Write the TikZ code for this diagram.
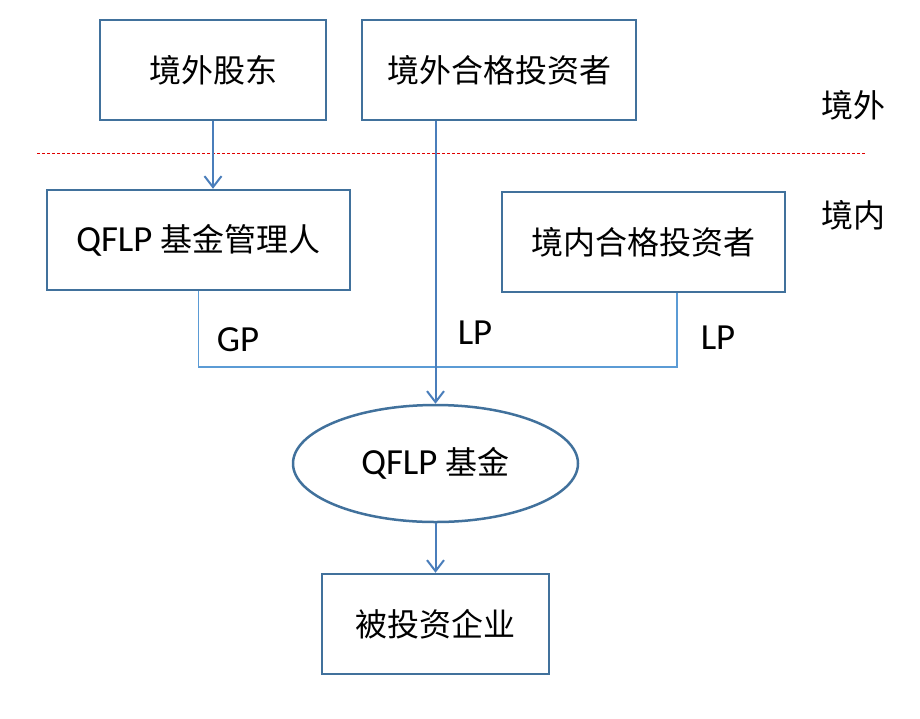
\documentclass[tikz,border=0pt]{standalone}
\usepackage{fontspec}
\setmainfont{Carlito}[Scale=1.15]
\newfontfamily\cjk{Noto Sans CJK SC}
\usetikzlibrary{arrows.meta,shapes.geometric}
\definecolor{boxblue}{HTML}{41719C}
\definecolor{arrowblue}{HTML}{4A7EBB}
\definecolor{lineblue}{HTML}{5B9BD5}
\definecolor{borderred}{HTML}{E00000}

\begin{document}
\begin{tikzpicture}[
            x=1pt, y=-1pt,
            every node/.style={font=\fontsize{32}{38}\selectfont, align=center},
            entity/.style={draw=boxblue, line width=2.5pt, rectangle, inner sep=0pt, minimum height=100pt},
            fundshape/.style={draw=boxblue, line width=2.5pt, ellipse, inner sep=0pt, minimum width=285pt, minimum height=117pt},
            flow/.style={draw=arrowblue, line width=2pt, -{Straight Barb[length=11pt,width=17pt,line width=2pt]}},
            share/.style={draw=lineblue, line width=1.2pt},
            border/.style={draw=borderred, line width=0.8pt, dash pattern=on 3pt off 2pt}
        ]
        \useasboundingbox (0,0) rectangle (920,718);

        % offshore
        \node[entity, minimum width=226pt] (ovsHolder) at (213,70) {\cjk 境外股东};
        \node[entity, minimum width=274pt] (ovsInvestor) at (499,70) {\cjk 境外合格投资者};
        \node (ovsLabel) at (853,105) {\cjk 境外};

        % border
        \coordinate (divL) at (37,153);
        \coordinate (divR) at (865,153);
        \draw[border] (divL) -- (divR);

        % onshore
        \node (domLabel) at (853,215) {\cjk 境内};
        \node[entity, minimum width=303pt] (manager) at (198.5,240) {QFLP {\cjk 基金管理人}};
        \node[entity, minimum width=283pt] (domInvestor) at (643.5,242) {\cjk 境内合格投资者};
        \node[fundshape] (fund) at (435.5,463.5) {QFLP {\cjk 基金}};
        \node[entity, minimum width=227pt] (target) at (435.5,624) {\cjk 被投资企业};

        % GP / LP labels
        \node (gpLabel) at (238,340) {GP};
        \node (lpLabel) at (475,333) {LP};
        \node (lpLabelB) at (718,338) {LP};

        % connectors
        \coordinate (join) at (677,367);
        \draw[share] (manager.south) |- (join) -- (join |- domInvestor.south);
        \draw[flow] (ovsHolder.south) -- (ovsHolder.south |- manager.north);
        \draw[flow] (fund.north |- ovsInvestor.south) -- (fund.north);
        \draw[flow] (fund.south) -- (target.north);

        \end{tikzpicture}
\end{document}
